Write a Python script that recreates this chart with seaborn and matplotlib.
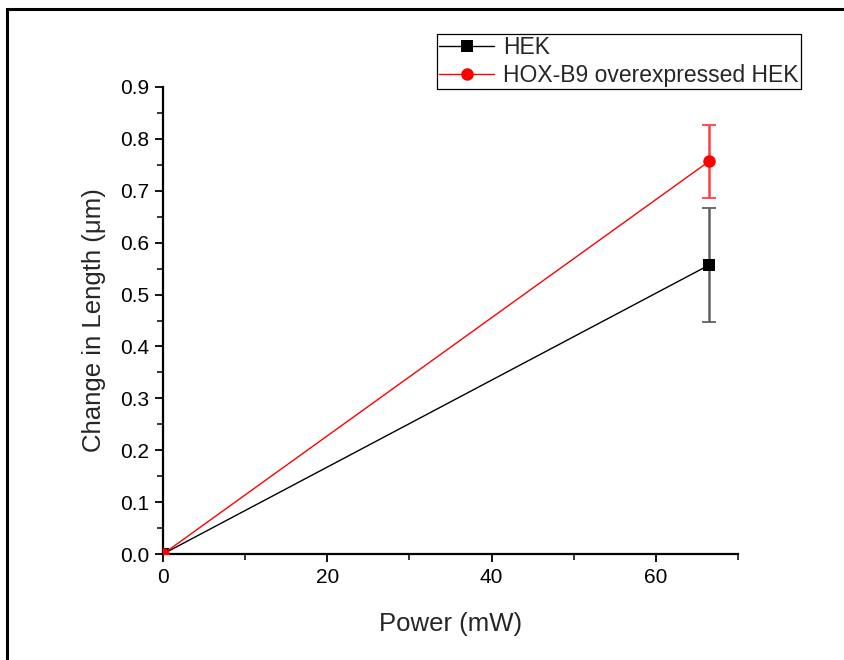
import matplotlib
matplotlib.use("Agg")
import matplotlib.pyplot as plt
from matplotlib.patches import Rectangle
from matplotlib.ticker import MultipleLocator
import numpy as np
import pandas as pd
import seaborn as sns

sns.set_style("ticks")
plt.rcParams['font.family'] = ['Liberation Sans', 'DejaVu Sans']

# data
power = [0.0, 66.5]
hek = [0.0, 0.557]
hek_err = [0.0, 0.11]
hox = [0.0, 0.757]
hox_err = [0.0, 0.07]
series_names = ["HEK", "HOX-B9 overexpressed HEK"]

df = pd.DataFrame({
    "Power": power + power,
    "Change": hek + hox,
    "Err": hek_err + hox_err,
    "Cell": [series_names[0]] * len(power) + [series_names[1]] * len(power),
})

pal = {series_names[0]: "black", series_names[1]: "#ff0000"}
err_col = {series_names[0]: "#606060", series_names[1]: "#ff4040"}
mk = {series_names[0]: "s", series_names[1]: "o"}

fig = plt.figure(figsize=(8.44, 6.6), dpi=100)
ax = fig.add_axes([163/844, 1-554/660, (738-163)/844, (554-87)/660])

# error bars first so the markers sit on top
for name in series_names:
    sub = df[df.Cell == name]
    ax.errorbar(sub.Power.values[1:], sub.Change.values[1:], yerr=sub.Err.values[1:],
                fmt="none", ecolor=err_col[name], elinewidth=1.8, capsize=5, capthick=1.3, zorder=2)

sns.lineplot(data=df, x="Power", y="Change", hue="Cell", style="Cell",
             palette=pal, markers=mk, dashes=False, linewidth=1,
             markersize=9, markeredgewidth=0, ax=ax, zorder=3)

ax.set_xlim(0, 70)
ax.set_ylim(0, 0.9)
ax.xaxis.set_major_locator(MultipleLocator(20))
ax.xaxis.set_minor_locator(MultipleLocator(10))
ax.yaxis.set_major_locator(MultipleLocator(0.1))
ax.yaxis.set_minor_locator(MultipleLocator(0.05))
ax.yaxis.set_major_formatter(matplotlib.ticker.FormatStrFormatter("%.1f"))
sns.despine(ax=ax)
for s in ["left", "bottom"]:
    ax.spines[s].set_linewidth(1.6)
    ax.spines[s].set_color("black")
ax.tick_params(which="major", length=6, width=1.3, labelsize=15, colors="black", pad=4)
ax.tick_params(which="minor", length=4, width=1.1, colors="black")

ax.set_xlabel("Power (mW)", fontsize=18.5, labelpad=18)
ax.set_ylabel("Change in Length (\u03bcm)", fontsize=18.5, labelpad=10)

handles, labels = ax.get_legend_handles_labels()
leg = ax.legend(handles, labels, loc="upper left",
                bbox_to_anchor=(437/844, 1-34/660), bbox_transform=fig.transFigure,
                fontsize=16.5, frameon=True, fancybox=False, framealpha=1,
                borderpad=0.1, handlelength=2.4, handletextpad=0.4,
                labelspacing=0.2, borderaxespad=0)
leg.get_frame().set_edgecolor("black")
leg.get_frame().set_linewidth(0.9)

# outer frame around the figure (open at right / bottom like the reference)
fig.patches.append(Rectangle((7/844, -0.1), 1.2, 1.1 - 9/660, transform=fig.transFigure,
                             fill=False, edgecolor="black", linewidth=2.2, figure=fig))

fig.savefig("out.png", dpi=100)
